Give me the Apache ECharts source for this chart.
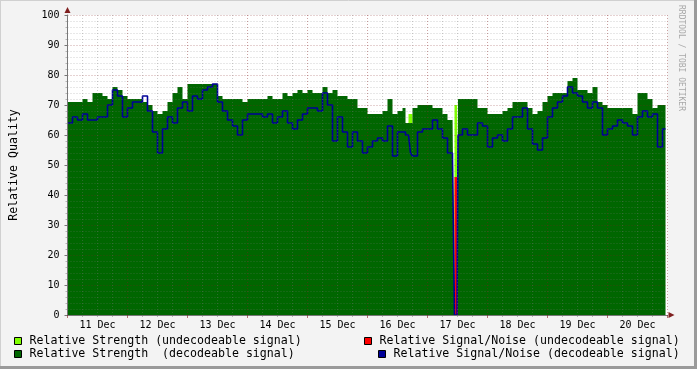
<!DOCTYPE html>
<html><head><meta charset="utf-8">
<script src="https://cdn.jsdelivr.net/npm/echarts@6/dist/echarts.min.js"></script>
<style>html,body{margin:0;padding:0;background:#f3f3f3}#c{width:697px;height:369px}</style>
</head><body><div id="c"></div>
<script>
// time in hours since 11 Dec 00:00
const hours = [0,2,4,6,8,10,12,14,16,18,20,22,24,26,28,30,32,34,36,38,40,42,44,46,48,50,52,54,56,58,60,62,64,66,68,70,72,74,76,78,80,82,84,86,88,90,92,94,96,98,100,102,104,106,108,110,112,114,116,118,120,122,124,126,128,130,132,134,135.2,136.4,137.2,138,140,142,144,146,148,150,152,154,154.8,155.8,156.2,158,160,162,164,166,168,170,172,174,176,178,180,182,184,186,188,190,192,194,196,198,200,202,204,206,208,210,212,214,216,218,220,222,224,226,228,230,232,234,236,238,239.2];
const strengthDecoded = [71,71,71,72,71,74,74,73,72,76,75,73,72,72,72,71,70,68,67,68,71,74,76,72,77,77,77,77,77,77,73,72,72,72,72,71,72,72,72,72,73,72,72,74,73,74,75,74,75,74,74,76,74,75,73,73,72,72,69,69,67,67,67,68,72,67,68,69,64,64,64,69,70,70,70,69,69,67,65,67,0,0,72,72,72,72,69,69,67,67,67,68,69,71,71,71,69,67,68,71,73,74,74,74,78,79,75,75,74,76,71,70,69,69,69,69,69,67,74,74,72,69,70,70,70];
const snrDecoded = [64,66,65,67,65,65,66,66,70,75,73,66,69,71,71,73,68,61,54,62,66,64,69,71,68,73,72,75,76,77,71,68,65,63,60,65,67,67,67,66,67,64,66,68,64,62,65,67,69,69,68,74,70,58,66,61,56,61,58,54,56,58,59,58,63,53,61,61,60,60,54,53,61,62,62,65,62,59,54,52,0,0,60,62,60,60,64,63,56,59,60,58,62,66,66,69,62,57,55,59,66,69,71,73,76,74,73,71,69,71,69,60,62,63,65,64,63,60,66,68,66,67,56,62,62];
const undecHours = [136.4,137.2,138,154.8,155.8,156.2];
const strengthUndecoded = [67,67,null,70,75,75];
const snrUndecHours = [154.8,156.2];
const snrUndecoded = [46,46];
const dayLabels = ['11 Dec','12 Dec','13 Dec','14 Dec','15 Dec','16 Dec','17 Dec','18 Dec','19 Dec','20 Dec'];
const names = ['Relative Strength (undecodeable signal)','Relative Strength  (decodeable signal)','Relative Signal/Noise (undecodeable signal)','Relative Signal/Noise (decodeable signal)'];
const colors = ['#80ff00','#006600','#ff0000','#000099'];

const FONT = 'DejaVu Sans Mono';
const pairs = (xs, ys) => xs.map((x, i) => [x, ys[i]]);
const chart = echarts.init(document.getElementById('c'), null, {renderer: 'canvas'});
const majorLine = {color: 'rgba(130,30,30,0.4)', type: [1, 2], width: 1};
const minorLine = {color: 'rgba(120,120,120,0.35)', type: [1, 2], width: 1};
const legendBase = {
  icon: 'rect', itemWidth: 7, itemHeight: 7, padding: 0, selectedMode: false,
  itemStyle: {borderColor: '#000', borderWidth: 1},
  textStyle: {fontFamily: FONT, fontSize: 11.6, color: '#000', padding: [0, 0, 0, 3]}
};
chart.setOption({
  animation: false,
  backgroundColor: '#f3f3f3',
  grid: {left: 67.5, top: 15, width: 600, height: 300, show: true, backgroundColor: '#fff', borderWidth: 0,
    containLabel: false, outerBoundsMode: 'none'},
  xAxis: [{
    type: 'value', min: 0, max: 240, interval: 24, z: 5,
    axisLine: {show: true, lineStyle: {color: '#777', width: 1}},
    axisTick: {show: true, length: 3, lineStyle: {color: 'rgba(130,30,30,0.6)'}},
    axisLabel: {show: false},
    splitLine: {show: true, lineStyle: majorLine},
    minorTick: {show: true, splitNumber: 4, length: 2, lineStyle: {color: 'rgba(120,120,120,0.5)'}},
    minorSplitLine: {show: true, lineStyle: minorLine}
  }, {
    type: 'value', min: 0, max: 240, interval: 12, position: 'bottom', z: 5,
    axisLine: {show: false}, axisTick: {show: false}, splitLine: {show: false},
    axisLabel: {show: true, margin: 5, fontFamily: FONT, fontSize: 10, color: '#000',
      formatter: v => (v % 24 === 12 ? dayLabels[(v - 12) / 24] : '')}
  }],
  yAxis: [{
    type: 'value', min: 0, max: 100, interval: 10, z: 5,
    name: 'Relative Quality', nameLocation: 'middle', nameGap: 48, nameRotate: 90,
    nameTextStyle: {fontFamily: FONT, fontSize: 11.6, color: '#000'},
    axisLine: {show: true, lineStyle: {color: '#777', width: 1}},
    axisTick: {show: true, length: 3, lineStyle: {color: '#777'}},
    axisLabel: {margin: 8, fontFamily: FONT, fontSize: 10, color: '#000'},
    splitLine: {show: true, lineStyle: majorLine},
    minorTick: {show: true, splitNumber: 5, length: 2, lineStyle: {color: 'rgba(120,120,120,0.5)'}},
    minorSplitLine: {show: true, lineStyle: minorLine}
  }],
  legend: [
    Object.assign({left: 14, top: 335, data: [names[0]]}, legendBase),
    Object.assign({left: 14, top: 348, data: [names[1]]}, legendBase),
    Object.assign({left: 364, top: 335, data: [names[2]]}, legendBase),
    Object.assign({left: 378, top: 348, data: [names[3]]}, legendBase)
  ],
  series: [
    {name: names[0], type: 'line', step: 'end', symbol: 'none', color: colors[0], silent: true,
      lineStyle: {opacity: 0}, areaStyle: {color: colors[0], opacity: 1}, data: pairs(undecHours, strengthUndecoded)},
    {name: names[1], type: 'line', step: 'end', symbol: 'none', color: colors[1], silent: true,
      lineStyle: {opacity: 0}, areaStyle: {color: colors[1], opacity: 1}, data: pairs(hours, strengthDecoded)},
    {name: names[2], type: 'line', step: 'end', symbol: 'none', color: colors[2], silent: true,
      lineStyle: {opacity: 0}, areaStyle: {color: colors[2], opacity: 1}, data: pairs(snrUndecHours, snrUndecoded)},
    {name: names[3], type: 'line', step: 'end', symbol: 'none', color: colors[3], silent: true,
      lineStyle: {color: colors[3], width: 1.6}, data: pairs(hours, snrDecoded)}
  ]
});
// decorations: arrows, frame, watermark
const origin = chart.convertToPixel({xAxisIndex: 0, yAxisIndex: 0}, [0, 0]);
const corner = chart.convertToPixel({xAxisIndex: 0, yAxisIndex: 0}, [240, 100]);
chart.setOption({graphic: [
  {type: 'polygon', silent: true, z: 100, shape: {points: [[origin[0] - 3, corner[1] - 2], [origin[0] + 3, corner[1] - 2], [origin[0], corner[1] - 8]]}, style: {fill: '#7f1f1f'}},
  {type: 'polygon', silent: true, z: 100, shape: {points: [[corner[0] + 1, origin[1] - 3], [corner[0] + 1, origin[1] + 3], [corner[0] + 7, origin[1]]]}, style: {fill: '#7f1f1f'}},
  {type: 'line', silent: true, shape: {x1: 0, y1: 0.5, x2: 697, y2: 0.5}, style: {stroke: '#d0d0d0', lineWidth: 1}},
  {type: 'line', silent: true, shape: {x1: 0.5, y1: 0, x2: 0.5, y2: 369}, style: {stroke: '#d0d0d0', lineWidth: 1}},
  {type: 'line', silent: true, shape: {x1: 695.5, y1: 0, x2: 695.5, y2: 369}, style: {stroke: '#9a9a9a', lineWidth: 3}},
  {type: 'line', silent: true, shape: {x1: 0, y1: 367.5, x2: 697, y2: 367.5}, style: {stroke: '#9a9a9a', lineWidth: 3}},
  {type: 'text', silent: true, x: 685, y: 5, rotation: -Math.PI / 2,
    style: {text: 'RRDTOOL / TOBI OETIKER', fontFamily: FONT, fontSize: 8, fill: '#a8a8a8'}}
]});
</script></body></html>
